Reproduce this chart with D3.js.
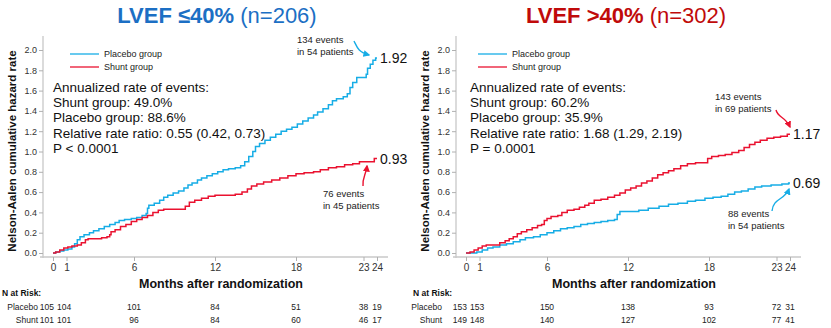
<!DOCTYPE html>
<html><head><meta charset="utf-8">
<script src="https://cdn.jsdelivr.net/npm/d3@7/dist/d3.min.js"></script>
<style>
body{margin:0;background:#fff;}
svg{display:block;font-family:"Liberation Sans",Arial,sans-serif;}
</style></head>
<body>
<svg id="c" width="831" height="328"></svg>
<script>
// ---------- DATA ----------
const xTicks = [0, 1, 6, 12, 18, 23, 24];
const yTicks = [0, 0.2, 0.4, 0.6, 0.8, 1.0, 1.2, 1.4, 1.6, 1.8, 2.0];
const riskMonths = [0, 1, 6, 12, 18, 23, 24];

// LVEF <=40%
const leftPlacebo = [[0,0],[0.2,0.01],[0.5,0.02],[0.8,0.03],[1.1,0.04],[1.4,0.06],[1.6,0.09],[1.8,0.13],[2.0,0.16],[2.3,0.18],[2.7,0.20],[3.0,0.22],[3.4,0.24],[3.8,0.26],[4.2,0.28],[4.6,0.30],[4.9,0.32],[5.3,0.33],[5.8,0.34],[6.2,0.35],[6.6,0.37],[6.9,0.39],[7.0,0.44],[7.1,0.47],[7.5,0.49],[7.9,0.52],[8.2,0.55],[8.5,0.57],[8.9,0.59],[9.3,0.61],[9.7,0.64],[10.0,0.67],[10.3,0.69],[10.7,0.72],[11.0,0.74],[11.4,0.76],[11.8,0.78],[12.2,0.80],[12.6,0.82],[13.0,0.83],[13.5,0.84],[13.9,0.86],[14.2,0.90],[14.5,0.95],[14.8,1.00],[15.0,1.05],[15.3,1.08],[15.7,1.11],[16.1,1.14],[16.5,1.17],[16.9,1.20],[17.3,1.22],[17.7,1.24],[18.1,1.27],[18.5,1.30],[18.9,1.33],[19.3,1.36],[19.6,1.39],[20.0,1.42],[20.4,1.46],[20.7,1.50],[21.0,1.52],[21.5,1.54],[21.8,1.57],[22.0,1.63],[22.2,1.68],[22.5,1.73],[23.2,1.76],[23.3,1.82],[23.5,1.86],[23.7,1.90],[23.9,1.92],[24,1.92]];
const leftShunt = [[0,0],[0.2,0.01],[0.5,0.03],[0.8,0.05],[1.1,0.06],[1.4,0.07],[1.8,0.08],[2.1,0.10],[2.4,0.13],[2.6,0.14],[3.2,0.14],[3.6,0.15],[4.0,0.16],[4.2,0.18],[4.3,0.21],[4.6,0.23],[5.0,0.26],[5.4,0.28],[5.8,0.31],[6.2,0.33],[6.6,0.35],[7.0,0.37],[7.4,0.40],[7.8,0.42],[8.2,0.43],[9.5,0.43],[9.8,0.46],[10.1,0.50],[10.5,0.52],[11.0,0.54],[11.5,0.56],[12.0,0.57],[13.0,0.57],[13.5,0.58],[14.0,0.60],[14.4,0.63],[14.7,0.66],[15.1,0.68],[15.6,0.70],[16.2,0.72],[16.8,0.74],[17.4,0.76],[18.0,0.78],[18.6,0.79],[19.3,0.80],[19.8,0.82],[20.4,0.84],[21.0,0.85],[21.6,0.87],[22.2,0.88],[22.7,0.90],[23.6,0.90],[23.8,0.93],[24,0.93]];
const leftRiskPlacebo = [105, 104, 101, 84, 51, 38, 19];
const leftRiskShunt = [101, 101, 96, 84, 60, 46, 17];
const leftStats = ["Annualized rate of events:", "Shunt group: 49.0%", "Placebo group: 88.6%", "Relative rate ratio: 0.55 (0.42, 0.73)", "P < 0.0001"];

// LVEF >40%
const rightPlacebo = [[0,0],[0.8,0.01],[1.2,0.03],[1.6,0.05],[2.0,0.06],[2.5,0.08],[3.0,0.09],[3.5,0.11],[4.0,0.13],[4.4,0.15],[5.0,0.16],[5.5,0.18],[6.0,0.20],[6.5,0.22],[7.0,0.24],[7.5,0.25],[8.0,0.26],[8.5,0.28],[9.0,0.29],[9.5,0.30],[10.0,0.31],[10.5,0.32],[11.0,0.33],[11.2,0.38],[11.4,0.41],[12.0,0.41],[12.8,0.42],[13.5,0.44],[14.3,0.46],[15.0,0.48],[15.7,0.49],[16.4,0.51],[17.0,0.52],[17.7,0.54],[18.3,0.55],[18.9,0.56],[19.4,0.58],[19.9,0.60],[20.4,0.61],[20.9,0.63],[21.4,0.65],[21.9,0.66],[22.6,0.67],[23.4,0.68],[23.9,0.69],[24,0.69]];
const rightShunt = [[0,0],[0.3,0.01],[0.6,0.03],[0.9,0.05],[1.2,0.07],[1.5,0.08],[2.2,0.08],[2.5,0.10],[2.9,0.12],[3.2,0.14],[3.5,0.16],[3.8,0.19],[4.1,0.21],[4.5,0.23],[4.9,0.25],[5.3,0.27],[5.6,0.28],[5.8,0.32],[6.0,0.34],[6.3,0.36],[6.8,0.37],[7.1,0.40],[7.5,0.42],[8.0,0.43],[8.4,0.45],[8.8,0.47],[9.1,0.49],[9.5,0.52],[10.0,0.53],[10.5,0.55],[11.0,0.57],[11.4,0.59],[11.8,0.62],[12.2,0.64],[12.6,0.66],[13.0,0.69],[13.4,0.71],[13.8,0.74],[14.2,0.77],[14.6,0.79],[15.0,0.81],[15.4,0.83],[15.9,0.86],[16.4,0.88],[17.0,0.89],[17.6,0.89],[17.9,0.93],[18.2,0.95],[18.7,0.96],[19.2,0.97],[19.7,0.99],[20.2,1.01],[20.6,1.04],[21.0,1.07],[21.4,1.09],[21.8,1.11],[22.3,1.13],[22.8,1.14],[23.3,1.15],[23.8,1.17],[24,1.17]];
const rightRiskPlacebo = [153, 153, 150, 138, 93, 72, 31];
const rightRiskShunt = [149, 148, 140, 127, 102, 77, 41];
const rightStats = ["Annualized rate of events:", "Shunt group: 60.2%", "Placebo group: 35.9%", "Relative rate ratio: 1.68 (1.29, 2.19)", "P = 0.0001"];

const BLUE = "#17ade6", RED = "#ea1230";

// ---------- DRAW ----------
const svg = d3.select("#c");
const defs = svg.append("defs");
[["aBlue", BLUE], ["aRed", RED]].forEach(([id, col]) => {
  defs.append("marker").attr("id", id).attr("viewBox", "0 0 10 10").attr("refX", 8).attr("refY", 5)
    .attr("markerWidth", 5).attr("markerHeight", 5).attr("orient", "auto")
    .append("path").attr("d", "M0,0 L10,5 L0,10 z").attr("fill", col);
});

function panel(o) {
  const g = svg.append("g").attr("transform", `translate(${o.dx},0)`);
  const x = d3.scaleLinear().domain([0, 24]).range([53, 377]);
  const y = d3.scaleLinear().domain([0, 2]).range([253, 50]);

  // title
  const t = g.append("text").attr("x", o.tc).attr("y", 23).attr("text-anchor", "middle")
    .attr("font-size", 22).attr("fill", o.titleColor);
  t.append("tspan").attr("font-weight", "bold").text(o.titleBold);
  t.append("tspan").text(o.titleRest);

  // y axis
  const ya = g.append("g").attr("transform", "translate(43,0)")
    .call(d3.axisLeft(y).tickValues(yTicks).tickFormat(d3.format(".1f")).tickSize(4).tickPadding(2));
  ya.select(".domain").attr("d", `M0,36V258`);
  // x axis
  const xa = g.append("g").attr("transform", "translate(0,257)")
    .call(d3.axisBottom(x).tickValues(xTicks).tickFormat(d3.format("d")).tickSize(4).tickPadding(3));
  xa.select(".domain").attr("d", `M40,0H388`);
  [ya, xa].forEach(a => {
    a.selectAll(".domain").attr("stroke", "#c8c8c8").attr("stroke-width", 1.3);
    a.selectAll(".tick line").attr("stroke", "#b0b0b0");
    a.selectAll(".tick text").attr("fill", "#333").attr("font-size", 9).attr("font-family", "Liberation Sans, Arial, sans-serif");
  });
  xa.selectAll(".tick text").attr("font-size", 10);

  // axis titles
  g.append("text").attr("transform", "translate(16,151) rotate(-90)").attr("text-anchor", "middle")
    .attr("font-weight", "bold").attr("font-size", 11.5).attr("fill", "#111").text("Nelson-Aalen cumulative hazard rate");
  g.append("text").attr("x", 221).attr("y", 288).attr("text-anchor", "middle")
    .attr("font-weight", "bold").attr("font-size", 12.5).attr("fill", "#111").text("Months after randomization");

  // curves
  const line = d3.line().x(d => x(d[0])).y(d => y(d[1])).curve(d3.curveStepAfter);
  g.append("path").datum(o.placebo).attr("d", line).attr("fill", "none").attr("stroke", BLUE).attr("stroke-width", 1.5);
  g.append("path").datum(o.shunt).attr("d", line).attr("fill", "none").attr("stroke", RED).attr("stroke-width", 1.5);

  // legend
  [["Placebo group", BLUE, 54], ["Shunt group", RED, 67]].forEach(([lab, col, yy]) => {
    g.append("line").attr("x1", o.legX).attr("x2", o.legX + 29).attr("y1", yy).attr("y2", yy).attr("stroke", col).attr("stroke-width", 1.3);
    g.append("text").attr("x", o.legX + 34).attr("y", yy + 3).attr("font-size", 9).attr("fill", "#222").text(lab);
  });

  // stats text
  g.append("g").selectAll("text").data(o.stats).join("text")
    .attr("x", o.statX).attr("y", (d, i) => 92 + i * 15.2)
    .attr("font-size", 13.5).attr("fill", "#111").text(d => d);

  // end labels
  const endP = o.placebo[o.placebo.length - 1], endS = o.shunt[o.shunt.length - 1];
  [[endP, o.pLabDy], [endS, o.sLabDy]].forEach(([e, dy]) => {
    g.append("text").attr("x", x(24) + 3).attr("y", y(e[1]) + dy).attr("font-size", 14).attr("fill", "#111").text(e[1].toFixed(2));
  });

  // event annotations
  o.notes.forEach(n => {
    g.append("text").attr("x", n.tx).attr("y", n.ty).attr("font-size", 9.5).attr("fill", "#222")
      .selectAll("tspan").data(n.lines).join("tspan").attr("x", n.tx).attr("dy", (d, i) => i ? 12 : 0).text(d => d);
    g.append("path").attr("d", n.path).attr("fill", "none").attr("stroke", n.col).attr("stroke-width", 1.4)
      .attr("marker-end", `url(#${n.col === BLUE ? "aBlue" : "aRed"})`);
  });

  // risk table
  g.append("text").attr("x", o.riskX).attr("y", 296).attr("font-weight", "bold").attr("font-size", 8.5).attr("fill", "#111").text("N at Risk:");
  [["Placebo", o.riskP, 309.5], ["Shunt", o.riskS, 322.5]].forEach(([lab, vals, yy]) => {
    g.append("text").attr("x", o.labEnd).attr("y", yy).attr("text-anchor", "end").attr("font-size", 8.5).attr("fill", "#222").text(lab);
    g.append("g").selectAll("text").data(vals).join("text")
      .attr("x", (d, i) => riskMonths[i] === 0 ? x(0) + 1 : riskMonths[i] === 1 ? x(0) + 4 : x(riskMonths[i]))
      .attr("text-anchor", (d, i) => riskMonths[i] === 0 ? "end" : riskMonths[i] === 1 ? "start" : "middle")
      .attr("y", yy).attr("font-size", 8.5).attr("fill", "#222").text(d => d);
  });
}

panel({
  dx: 0, tc: 217, titleColor: "#1c6fc4", titleBold: "LVEF ≤40%", titleRest: " (n=206)",
  placebo: leftPlacebo, shunt: leftShunt, stats: leftStats, statX: 53, legX: 70,
  pLabDy: 5, sLabDy: 5, riskX: 2, labEnd: 38, riskP: leftRiskPlacebo, riskS: leftRiskShunt,
  notes: [
    {lines: ["134 events", "in 54 patients"], tx: 297, ty: 43, col: BLUE, path: "M354,41 C357,47 358,52 369,55"},
    {lines: ["76 events", "in 45 patients"], tx: 323, ty: 197, col: RED, path: "M363,186 C362,178 366,175 367,166"}
  ]
});
panel({
  dx: 413, tc: 213, titleColor: "#c00a0a", titleBold: "LVEF >40%", titleRest: " (n=302)",
  placebo: rightPlacebo, shunt: rightShunt, stats: rightStats, statX: 57, legX: 65,
  pLabDy: 5, sLabDy: 5, riskX: 0, labEnd: 29, riskP: rightRiskPlacebo, riskS: rightRiskShunt,
  notes: [
    {lines: ["143 events", "in 69 patients"], tx: 302, ty: 100, col: RED, path: "M363,110 C365,118 372,116 377,127"},
    {lines: ["88 events", "in 54 patients"], tx: 315, ty: 217, col: BLUE, path: "M359,211 C360,198 372,200 376,189"}
  ]
});
</script>
</body></html>
